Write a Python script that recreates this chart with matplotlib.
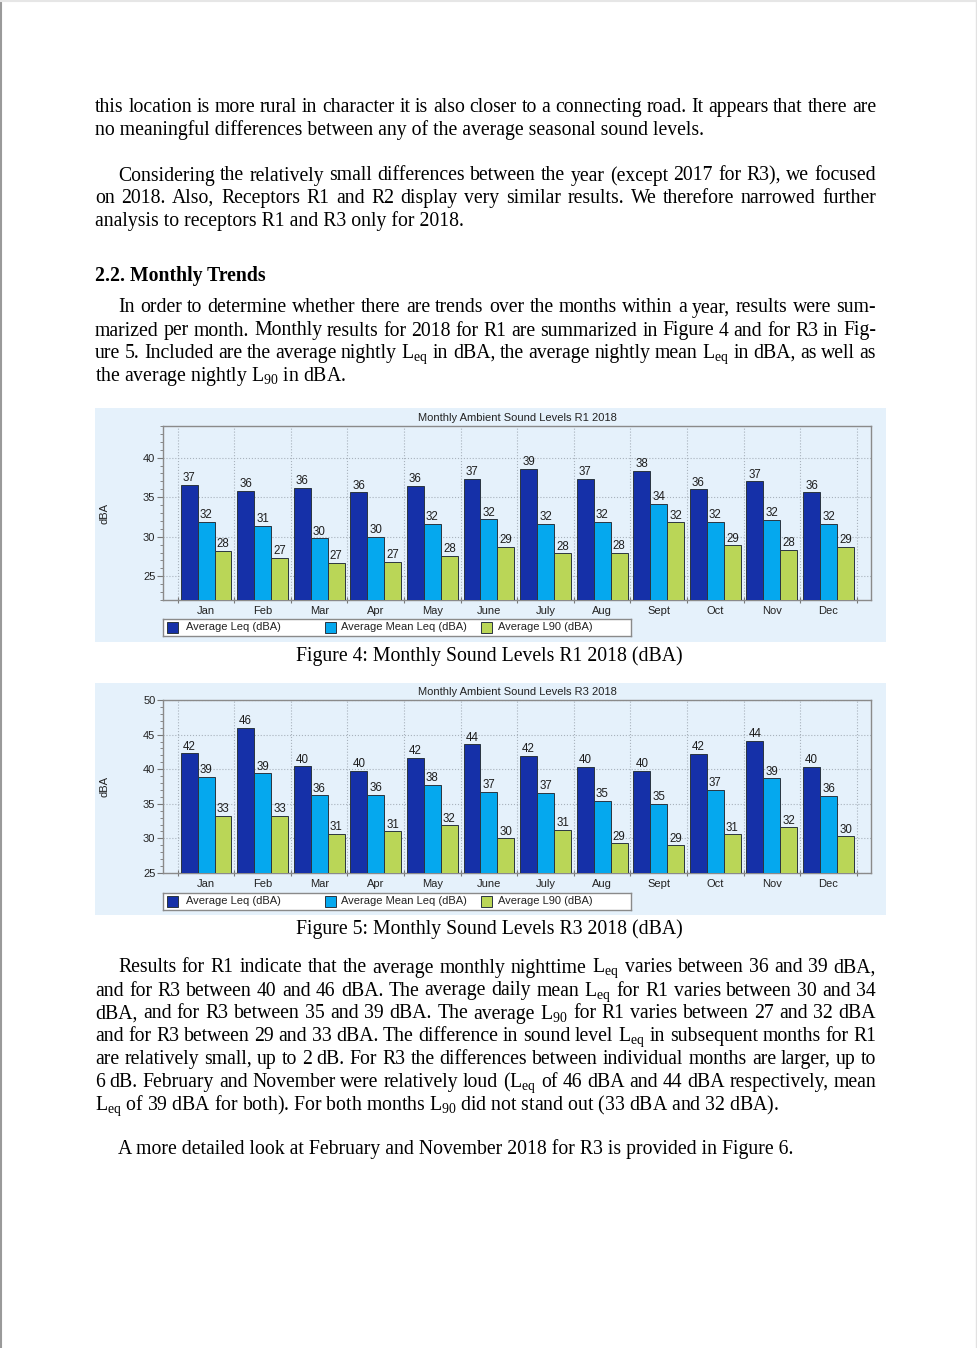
import matplotlib
matplotlib.use('Agg')
import numpy as np
import matplotlib.pyplot as plt
from matplotlib.patches import Rectangle
from matplotlib.lines import Line2D
from matplotlib.ticker import MultipleLocator

W, H = 977, 1348
SANS = ['Liberation Sans', 'DejaVu Sans']
SERIF = ['Liberation Serif', 'DejaVu Serif']
plt.rcParams['mathtext.fontset'] = 'custom'
plt.rcParams['mathtext.rm'] = 'Liberation Serif'
plt.rcParams['mathtext.it'] = 'Liberation Serif:italic'

months = ['Jan', 'Feb', 'Mar', 'Apr', 'May', 'June', 'July', 'Aug', 'Sept', 'Oct', 'Nov', 'Dec']
series = ['Average Leq (dBA)', 'Average Mean Leq (dBA)', 'Average L90 (dBA)']

r1_leq = [36.6, 35.8, 36.2, 35.6, 36.4, 37.3, 38.6, 37.3, 38.3, 36.0, 37.0, 35.6]
r1_mean = [31.9, 31.4, 29.8, 30.0, 31.6, 32.2, 31.6, 31.9, 34.2, 31.9, 32.1, 31.6]
r1_l90 = [28.2, 27.3, 26.7, 26.8, 27.6, 28.7, 27.9, 28.0, 31.8, 28.9, 28.3, 28.7]

r3_leq = [42.3, 46.0, 40.4, 39.8, 41.6, 43.6, 41.9, 40.3, 39.8, 42.2, 44.1, 40.3]
r3_mean = [38.9, 39.4, 36.2, 36.3, 37.7, 36.7, 36.6, 35.4, 35.0, 37.0, 38.7, 36.1]
r3_l90 = [33.3, 33.3, 30.7, 31.0, 31.9, 30.0, 31.2, 29.3, 29.0, 30.6, 31.6, 30.3]

colors = ['#1530a8', '#05a8ee', '#bad657']
edge = '#2a3540'
panel_bg = '#e5f1fb'

fig = plt.figure(figsize=(W / 100, H / 100), dpi=100)
renderer = fig.canvas.get_renderer()


def box(x0, y0, x1, y1):
    return [x0 / W, 1 - y1 / H, (x1 - x0) / W, (y1 - y0) / H]


def draw_chart(panel, axbox, title, data, ylim, yticks, legend_y):
    bg = fig.add_axes(box(*panel))
    bg.set_facecolor(panel_bg)
    bg.set_xticks([]); bg.set_yticks([])
    for s in bg.spines.values():
        s.set_visible(False)

    ax = fig.add_axes(box(*axbox))
    ax.set_facecolor(panel_bg)
    x = np.arange(len(months))
    for k, vals in enumerate(data):
        bars = ax.bar(x + (k - 1) * 0.3, vals, 0.3, color=colors[k], edgecolor=edge,
                      linewidth=0.7, zorder=3)
        ax.bar_label(bars, labels=['%.0f' % v for v in vals], padding=0.5,
                     fontsize=8.3, family=SANS, color='#1e1e1e', zorder=4)
    ax.set_xlim(-0.76, 11.75)
    ax.set_ylim(*ylim)
    ax.set_yticks(yticks)
    ax.set_yticklabels([str(t) for t in yticks], family=SANS, fontsize=8, color='#222222')
    ax.yaxis.set_minor_locator(MultipleLocator(1))
    ax.set_xticks(np.arange(-0.5, 12, 1))
    ax.set_xticklabels([])
    ax.set_xticks(x, months, minor=True)
    for t in ax.get_xticklabels(minor=True):
        t.set_family(SANS); t.set_fontsize(8); t.set_color('#222222')
    ax.tick_params(axis='x', which='minor', length=0, pad=4)
    ax.tick_params(axis='x', which='major', length=4, color='#777777', direction='inout')
    ax.tick_params(axis='y', which='major', length=4, color='#777777', pad=1.5)
    ax.tick_params(axis='y', which='minor', length=2, color='#777777')
    ax.grid(True, which='major', ls=':', color='#a8b2bc', lw=0.8, zorder=0)
    for s in ax.spines.values():
        s.set_color('#8a8a8a'); s.set_linewidth(1.0)
    ax.set_ylabel('dBA', family=SANS, fontsize=8, color='#222222')
    ax.yaxis.set_label_coords((109 - axbox[0]) / (axbox[2] - axbox[0]), 0.5)
    fig.text((panel[0] + panel[2]) / 2 / W + 0.028, 1 - (axbox[1] - 8) / H, title,
             family=SANS, fontsize=8, ha='center', va='center', color='#222222')

    # legend box below the plot
    lg = fig.add_axes(box(163, legend_y, 631, legend_y + 17))
    lg.set_xlim(0, 468); lg.set_ylim(0, 17)
    lg.set_facecolor('white')
    lg.set_xticks([]); lg.set_yticks([])
    for s in lg.spines.values():
        s.set_color('#8a8a8a'); s.set_linewidth(1.0)
    for px, tx, name, c in zip([4, 162, 318], [23, 178, 335], series, colors):
        lg.add_patch(Rectangle((px, 3), 11, 11, facecolor=c, edgecolor=edge, lw=0.7))
        lg.text(tx, 8.5, name, family=SANS, fontsize=8, va='center', color='#222222')


draw_chart((95, 408, 886, 642), (163, 426, 871, 600), 'Monthly Ambient Sound Levels R1 2018',
           [r1_leq, r1_mean, r1_l90], (22, 44), [25, 30, 35, 40], 619)
draw_chart((95, 683, 886, 915), (163, 700, 871, 873), 'Monthly Ambient Sound Levels R3 2018',
           [r3_leq, r3_mean, r3_l90], (25, 50), [25, 30, 35, 40, 45, 50], 893)

# page text
FS = 14.2
LEQ = r'L$_\mathrm{eq}$'
L90 = r'L$_\mathrm{90}$'


def line(y, s, x0=95, x1=None, weight='normal'):
    if x1 is None:
        fig.text(x0 / W, 1 - y / H, s, family=SERIF, fontsize=FS, weight=weight,
                 va='baseline', ha='left')
        return
    # justified line: place word by word
    items = []
    for w in s.split(' '):
        t = fig.text(0, 1 - y / H, w, family=SERIF, fontsize=FS, weight=weight,
                     va='baseline', ha='left')
        items.append((t, t.get_window_extent(renderer).width))
    gap = (x1 - x0 - sum(w for _, w in items)) / (len(items) - 1)
    x = x0
    for t, w in items:
        t.set_x(x / W)
        x += w + gap


R = 876
line(112, 'this location is more rural in character it is also closer to a connecting road. It appears that there are', x1=R)
line(135, 'no meaningful differences between any of the average seasonal sound levels.')

line(180.5, 'Considering the relatively small differences between the year (except 2017 for R3), we focused', x0=118, x1=R)
line(203, 'on 2018. Also, Receptors R1 and R2 display very similar results. We therefore narrowed further', x1=R)
line(226, 'analysis to receptors R1 and R3 only for 2018.')

line(280.5, '2.2. Monthly Trends', weight='bold')

line(312.5, 'In order to determine whether there are trends over the months within a year, results were sum-', x0=118, x1=R)
line(335.5, 'marized per month. Monthly results for 2018 for R1 are summarized in Figure 4 and for R3 in Fig-', x1=R)
line(358, 'ure 5. Included are the average nightly ' + LEQ + ' in dBA, the average nightly mean ' + LEQ + ' in dBA, as well as', x1=R)
line(381, 'the average nightly ' + L90 + ' in dBA.')

fig.text(489 / W, 1 - 661 / H, 'Figure 4: Monthly Sound Levels R1 2018 (dBA)', family=SERIF,
         fontsize=FS, ha='center', va='baseline')
fig.text(489 / W, 1 - 934 / H, 'Figure 5: Monthly Sound Levels R3 2018 (dBA)', family=SERIF,
         fontsize=FS, ha='center', va='baseline')

line(972.5, 'Results for R1 indicate that the average monthly nighttime ' + LEQ + ' varies between 36 and 39 dBA,', x0=118, x1=R)
line(995.5, 'and for R3 between 40 and 46 dBA. The average daily mean ' + LEQ + ' for R1 varies between 30 and 34', x1=R)
line(1018.5, 'dBA, and for R3 between 35 and 39 dBA. The average ' + L90 + ' for R1 varies between 27 and 32 dBA', x1=R)
line(1041, 'and for R3 between 29 and 33 dBA. The difference in sound level ' + LEQ + ' in subsequent months for R1', x1=R)
line(1064, 'are relatively small, up to 2 dB. For R3 the differences between individual months are larger, up to', x1=R)
line(1087, '6 dB. February and November were relatively loud (' + LEQ + ' of 46 dBA and 44 dBA respectively, mean', x1=R)
line(1110, LEQ + ' of 39 dBA for both). For both months ' + L90 + ' did not stand out (33 dBA and 32 dBA).')

line(1154, 'A more detailed look at February and November 2018 for R3 is provided in Figure 6.', x0=118)

# page edges
fig.add_artist(Line2D([1 / W, 1 / W], [0, 1], color='#9a9a9a', lw=1.5, transform=fig.transFigure))
fig.add_artist(Line2D([0, 1], [1 - 1 / H, 1 - 1 / H], color='#e6e6e6', lw=1.5, transform=fig.transFigure))
fig.add_artist(Line2D([975.5 / W, 975.5 / W], [0, 1], color='#e2e2e2', lw=1.0, transform=fig.transFigure))

fig.savefig('out.png', dpi=100)
